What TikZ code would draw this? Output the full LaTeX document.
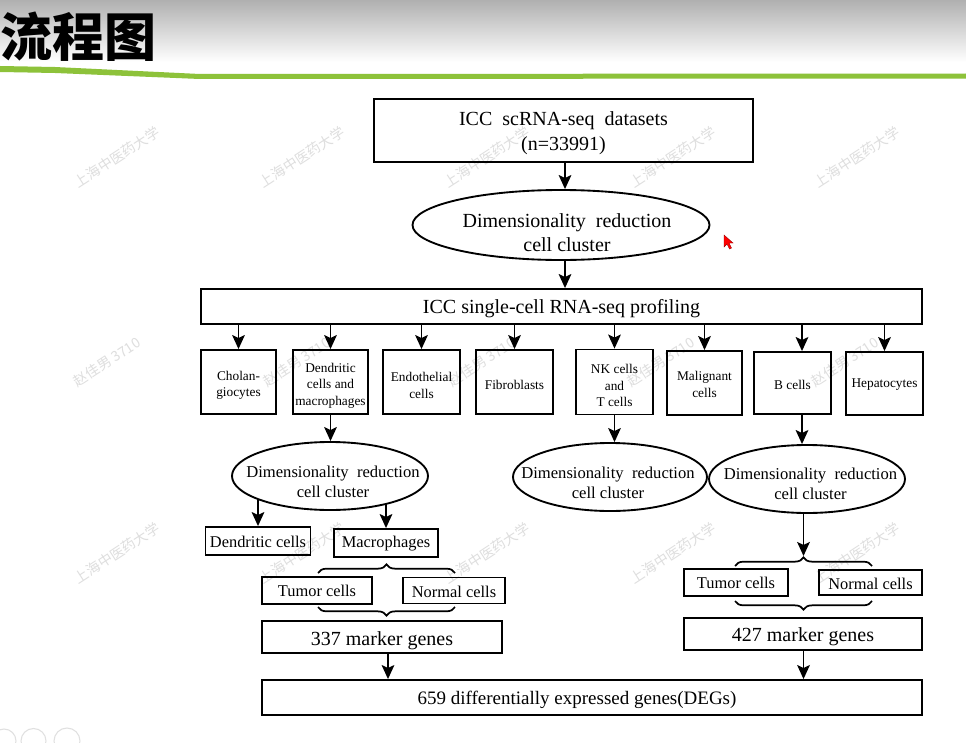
\documentclass[tikz,border=0pt]{standalone}
\usepackage{fontspec}
\setmainfont{Liberation Serif}
\newfontfamily\cjk{Noto Sans CJK SC}
\usetikzlibrary{arrows.meta,shapes.geometric,decorations.pathreplacing,calc}
\definecolor{hdrgreen}{RGB}{141,194,58}
\definecolor{wmgray}{RGB}{222,222,222}
\tikzset{
  box/.style 2 args={draw, line width=1.4pt, inner sep=0pt,
    minimum width={#1*0.75pt}, minimum height={#2*0.75pt}},
  ell/.style 2 args={draw, ellipse, line width=1.4pt, inner sep=0pt,
    minimum width={#1*0.75pt}, minimum height={#2*0.75pt}},
  txt/.style={inner sep=0pt, align=center},
  fbig/.style={txt, font=\fontsize{15pt}{18.5pt}\selectfont},
  fbigE/.style={txt, font=\fontsize{15pt}{18pt}\selectfont},
  fsm/.style={txt, font=\fontsize{10pt}{12.4pt}\selectfont},
  fmd/.style={txt, font=\fontsize{12.45pt}{15pt}\selectfont},
  fmid/.style={txt, font=\fontsize{12.3pt}{14pt}\selectfont},
  ffin/.style={txt, font=\fontsize{14.25pt}{16pt}\selectfont},
  arr/.style={line width=1.4pt, -{Stealth[length=10.5pt,width=9.5pt,inset=2.2pt]}},
  brc/.style={decorate, decoration={brace, amplitude=6.5pt}, line width=1.3pt},
  wm/.style={inner sep=0pt, text=wmgray, rotate=33, font=\cjk\fontsize{10.5pt}{10.5pt}\selectfont}
}
% \mybox{name}{x}{y}{w}{h}{text dy}{text style}{text}
\newcommand{\mybox}[8]{%
  \node[box={#4}{#5}] (#1) at (#2,#3) {};
  \node[#7] (#1t) at (#2,#3+#6) {#8};}
\begin{document}
\begin{tikzpicture}[x=0.75pt,y=-0.75pt]
\useasboundingbox (0,0) rectangle (966,742);
\fill[white] (0,0) rectangle (966,742);
% header
\shade[top color=black!31, bottom color=white] (0,0) rectangle (966,62);
\fill[hdrgreen] (0,66) -- (55,67) -- (200,74) -- (966,73.5) -- (966,78.5) -- (200,79) -- (55,73) -- (0,72) -- cycle;
\node[anchor=west, inner sep=0pt, font=\cjk\bfseries\fontsize{39pt}{39pt}\selectfont] (title) at (0,37) {流程图};
% watermarks
\foreach \x in {117,302,487,673,857} {
  \node[wm] (wa\x) at (\x,157) {上海中医药大学};
  \node[wm] (wc\x) at (\x,553) {上海中医药大学};
}
\foreach \x in {107,297,482,661,845} {
  \node[wm] (wb\x) at (\x,362) {赵佳男 3710};
}
% bottom-left faint icons
\draw[black!12, line width=0.8pt] (4,741) circle (12);
\draw[black!12, line width=0.8pt] (33.5,741) circle (12.5);
\draw[black!12, line width=0.8pt] (67,741) circle (13);
% cursor
\filldraw[fill=red, draw=red!60!black, line width=0.3pt] (724,235) -- (724,247) -- (727,244) -- (729.5,249) -- (731.5,248) -- (729,243) -- (733,243) -- cycle;

% top part
\mybox{top}{563.5}{130.5}{379}{63}{2.5}{fbig}{ICC~ scRNA-seq~ datasets\\(n=33991)}
\node[ell={297}{70}] (e1) at (561,225) {};
\node[fbigE] (e1t) at (567,233) {Dimensionality~ reduction\\cell cluster};
\mybox{wide}{561.5}{306.5}{721}{35}{2}{fbig}{ICC single-cell RNA-seq profiling}
\coordinate (c1) at (565,0);
\draw[arr] (top.south -| c1) -- (e1.north -| c1);
\draw[arr] (e1.south -| c1) -- (wide.north -| c1);

% cell type row
\mybox{chol}{238.5}{382}{75}{64}{3.5}{fsm}{Cholan-\\giocytes}
\mybox{dend}{330.5}{382}{75}{64}{3.5}{fsm}{Dendritic\\cells and\\macrophages}
\mybox{endo}{421.5}{382}{77}{64}{3.5}{fsm}{Endothelial\\cells}
\mybox{fib}{514.5}{382}{77}{64}{2.5}{fsm}{Fibroblasts}
\mybox{nkt}{614.5}{382}{77}{65}{3.5}{fsm}{NK cells\\and\\T cells}
\mybox{mal}{704.5}{383}{75}{64}{1.5}{fsm}{Malignant\\cells}
\mybox{bcl}{792.5}{383}{77}{62}{1.5}{fsm}{B cells}
\mybox{hep}{884.5}{383.5}{77}{63}{1.5}{fsm}{Hepatocytes}
\foreach \n in {chol,dend,endo,fib,nkt,mal,hep}
  \draw[arr] (wide.south -| \n.north) -- (\n.north);
\coordinate (bcol) at (802,0);
\draw[arr] (wide.south -| bcol) -- (bcl.north -| bcol);

% second-level ellipses
\node[ell={196}{68}] (e2) at (330,476) {};
\node[fmd] (e2t) at (333,482) {Dimensionality~ reduction\\cell cluster};
\draw[arr] (dend.south) -- (dend.south |- e2.north);
\node[ell={194}{68}] (e3) at (610,477) {};
\node[fmd] (e3t) at (608,482.5) {Dimensionality~ reduction\\cell cluster};
\draw[arr] (nkt.south) -- (nkt.south |- e3.north);
\node[ell={196}{68}] (e4) at (807,479) {};
\node[fmd] (e4t) at (810.5,484) {Dimensionality~ reduction\\cell cluster};
\draw[arr] (bcl.south -| bcol) -- (e4.north -| bcol);

% left branch
\mybox{dc}{258}{541}{105}{28}{1}{fmid}{Dendritic cells}
\mybox{mac}{386}{543}{104}{28}{1}{fmid}{Macrophages}
\draw[arr] ([shift={(-72,23)}]e2.center) -- (dc.north);
\draw[arr] ([shift={(56,28)}]e2.center) -- (mac.north);
\draw[brc] (318,573) -- (455,573);
\mybox{tl}{317}{590.5}{110}{27}{0.5}{fmid}{Tumor cells}
\mybox{nl}{454}{590.5}{102}{26}{1}{fmid}{Normal cells}
\draw[brc] (455,607) -- (318,607);
\mybox{m337}{382}{637}{240}{32}{4}{fbig}{337 marker genes}

% right branch
\coordinate (rcol) at (803.5,0);
\coordinate (b3tip) at (803.5,556);
\draw[arr] (e4.south -| rcol) -- (b3tip);
\draw[brc] (735,566) -- (872,566);
\mybox{tr}{736}{582.5}{104}{27}{0.5}{fmid}{Tumor cells}
\mybox{nr}{870.5}{582.5}{103}{25}{1}{fmid}{Normal cells}
\draw[brc] (872,601) -- (735,601);
\mybox{m427}{803}{634}{238}{32}{3}{fbig}{427 marker genes}

% final
\node[box={660}{35}] (fin) at (592,697.5) {};
\node[ffin] (fint) at (577,699.5) {659 differentially expressed genes(DEGs)};
\coordinate (lcol) at (388,0);
\draw[arr] (m337.south -| lcol) -- (fin.north -| lcol);
\draw[arr] (m427.south -| rcol) -- (fin.north -| rcol);
\end{tikzpicture}
\end{document}
